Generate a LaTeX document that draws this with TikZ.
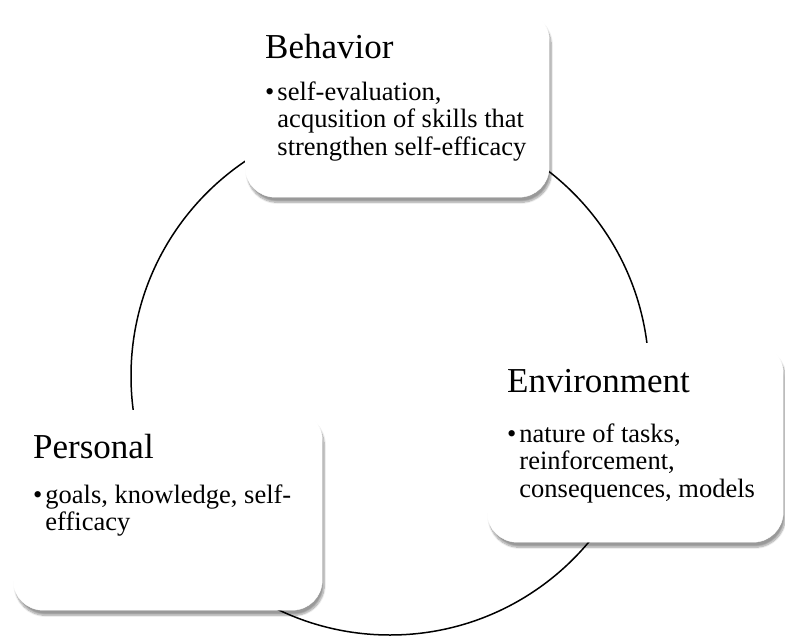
\documentclass[tikz,border=0pt]{standalone}
\usepackage{fontspec}
\setmainfont{Liberation Serif}
\usetikzlibrary{shadows.blur}

\begin{document}
\begin{tikzpicture}[x=1pt,y=-1pt,
	box/.style={draw=white, fill=white, rounded corners=30pt, anchor=north west, inner sep=0pt,
		blur shadow={shadow xshift=2pt, shadow yshift=-5pt, shadow blur steps=10, shadow opacity=40}},
	title/.style={anchor=base west, inner sep=0pt, font=\fontsize{35}{42}\selectfont},
	body/.style={anchor=base west, inner sep=0pt, font=\fontsize{26.5}{27.5}\selectfont}]
	\useasboundingbox (0,0) rectangle (785,637);
	\coordinate (c) at (390,376);
	\draw[line width=1.5pt] (c) circle[radius=259pt];
	% the three boxes
	\node[box, minimum width=304pt, minimum height=187pt] (beh) at (245,10) {};
	\node[box, minimum width=309pt, minimum height=200pt] (pers) at (13,410) {};
	\node[box, minimum width=296pt, minimum height=199pt] (env) at (487,343) {};
	\node[title] (behT) at ([xshift=20pt,yshift=-48pt]beh.north west) {Behavior};
	\node[title] (persT) at ([xshift=20pt,yshift=-48pt]pers.north west) {Personal};
	\node[title] (envT) at ([xshift=20pt,yshift=-49pt]env.north west) {Environment};
	\node[body] (behB) at ([xshift=20pt,yshift=-90pt]beh.north west)
		{\begin{tabular}[t]{@{}l@{\hspace{3pt}}l@{}}\textbullet & self-evaluation,\\ & acqusition of skills that\\ & strengthen self-efficacy\end{tabular}};
	\node[body] (persB) at ([xshift=20pt,yshift=-93pt]pers.north west)
		{\begin{tabular}[t]{@{}l@{\hspace{3pt}}l@{}}\textbullet & goals, knowledge, self-\\ & efficacy\end{tabular}};
	\node[body] (envB) at ([xshift=20pt,yshift=-99pt]env.north west)
		{\begin{tabular}[t]{@{}l@{\hspace{3pt}}l@{}}\textbullet & nature of tasks,\\ & reinforcement,\\ & consequences, models\end{tabular}};
\end{tikzpicture}
\end{document}
